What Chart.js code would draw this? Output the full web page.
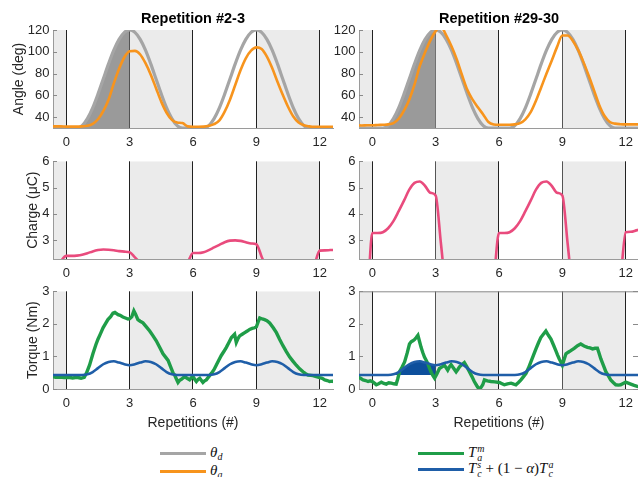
<!DOCTYPE html>
<html>
<head>
<meta charset="utf-8">
<script src="https://cdn.jsdelivr.net/npm/chart.js@4.4.0/dist/chart.umd.min.js"></script>
<style>
  body { margin: 0; width: 638px; height: 477px; overflow: hidden; position: relative; background: #fff; }
  canvas { position: absolute; }
  .leg { position: absolute; height: 18px; display: flex; align-items: center;
         font-family: "Liberation Serif", "DejaVu Serif", serif; font-size: 15px; color: #111; white-space: nowrap; }
  .sw { display: inline-block; width: 46px; height: 3px; margin-right: 4px; }
  .leg sub { font-size: 10px; vertical-align: -3px; }
  .st { display: inline-flex; flex-direction: column; font-size: 10px; line-height: 9px; vertical-align: middle; margin-left: 1px; }
</style>
</head>
<body>
<canvas id="angleL" width="345" height="150" style="left:0;top:0"></canvas>
<canvas id="angleR" width="340" height="150" style="left:300px;top:0"></canvas>
<canvas id="chargeL" width="345" height="130" style="left:0;top:150px"></canvas>
<canvas id="chargeR" width="340" height="130" style="left:300px;top:150px"></canvas>
<canvas id="torqueL" width="345" height="160" style="left:0;top:280px"></canvas>
<canvas id="torqueR" width="340" height="160" style="left:300px;top:280px"></canvas>

<div class="leg" style="left:160px;top:444px"><span class="sw" style="background:#a5a5a5"></span><span><i>θ</i><sub><i>d</i></sub></span></div>
<div class="leg" style="left:160px;top:462px"><span class="sw" style="background:#f7941d"></span><span><i>θ</i><sub><i>a</i></sub></span></div>
<div class="leg" style="left:418px;top:444px"><span class="sw" style="background:#1f9d48"></span><span><i>T</i><span class="st"><i>m</i><i>a</i></span></span></div>
<div class="leg" style="left:418px;top:460px"><span class="sw" style="background:#1f5ea8"></span><span><i>T</i><span class="st"><i>s</i><i>c</i></span> + (1 − <i>α</i>)<i>T</i><span class="st"><i>a</i><i>c</i></span></span></div>

<script>
// repetition grid (x positions of the sampled curves)
const reps = [-0.75, -0.5, -0.25, 0, 0.25, 0.5, 0.75, 1, 1.25, 1.5, 1.75, 2, 2.25, 2.5, 2.75,
  3, 3.25, 3.5, 3.75, 4, 4.25, 4.5, 4.75, 5, 5.25, 5.5, 5.75, 6, 6.25, 6.5, 6.75, 7, 7.25,
  7.5, 7.75, 8, 8.25, 8.5, 8.75, 9, 9.25, 9.5, 9.75, 10, 10.25, 10.5, 10.75, 11, 11.25,
  11.5, 11.75, 12, 12.25, 12.5, 12.75];
const xTicks = [0, 3, 6, 9, 12];
const shadedSpans = [[-1, 0], [3, 6], [9, 12]];
const assistSpan = [0, 3];
const angleTicks = [40, 60, 80, 100, 120];
const chargeTicks = [3, 4, 5, 6];
const torqueTicks = [0, 1, 2, 3];
const torqueBase = 0.43;

// angle (deg)
const thetaDesired = [30, 30, 30, 30, 30, 30, 32.2, 38.6, 48.5, 61.1, 75, 88.9, 101.5, 111.4, 117.8,
  120, 117.8, 111.4, 101.5, 88.9, 75, 61.1, 48.5, 38.6, 32.2, 30, 30, 30, 30, 30, 32.2, 38.6, 48.5,
  61.1, 75, 88.9, 101.5, 111.4, 117.8, 120, 117.8, 111.4, 101.5, 88.9, 75, 61.1, 48.5, 38.6, 32.2,
  30, 30, 30, 30, 30, 30];
const thetaEarly = [31.5, 31.5, 31.5, 31.3, 31.3, 31.3, 31.5, 32, 33.8, 38, 45.5, 56, 71, 84.5, 95,
  100.5, 100.8, 97.5, 89.5, 79, 66.5, 54, 44, 37.5, 35, 34.5, 31.5, 31.2, 31.2, 31.3, 32, 33.5, 37,
  45, 56, 69.5, 83, 94, 101, 104, 102.5, 95.5, 85, 72.5, 60.5, 49.5, 40.5, 35, 32.5,
  31.5, 31, 31, 31, 31, 31];
const thetaLate = [32.5, 32.3, 32.5, 32.5, 32.8, 33, 33.3, 34.5, 38.5, 46, 56, 70, 87, 99.5, 110.5,
  119, 123, 115, 105, 93, 78.5, 65, 56, 49, 42.5, 35.5, 33.3, 33, 33, 33, 33.3, 34.5, 38,
  44.5, 55, 67.5, 80, 92, 104.5, 115, 115, 110, 101.5, 90.5, 78, 64.5, 51, 41, 35.5,
  34, 33.5, 33.3, 33.3, 33.3, 33.3];

// charge (uC)
const chargeEarly = [1.6, 1.8, 2.2, 2.4, 2.4, 2.41, 2.44, 2.5, 2.57, 2.62, 2.64, 2.63, 2.61, 2.58, 2.56,
  2.54, 2.34, 2.14, 1.94, 1.74, 1.6, 1.5, 1.5, 1.5, 1.6, 1.8, 2.14, 2.51, 2.51, 2.54, 2.62, 2.72, 2.82,
  2.92, 2.98, 2.99, 2.97, 2.92, 2.87, 2.84, 2.37, 1.9, 1.6, 1.5, 1.5, 1.5, 1.5, 1.5, 1.6,
  1.8, 2.07, 2.6, 2.61, 2.62, 2.63];
const chargeLate = [0.5, 0.5, 0.8, 3.27, 3.27, 3.3, 3.45, 3.72, 4.1, 4.5, 4.92, 5.18, 5.23, 5.06, 4.8,
  4.7, 2.87, 1.05, 0.5, 0.5, 0.5, 0.5, 0.5, 0.5, 0.5, 0.5, 1.5, 3.27, 3.27, 3.3, 3.45, 3.72, 4.1,
  4.5, 4.92, 5.18, 5.23, 5.06, 4.8, 4.7, 2.87, 1.05, 0.5, 0.5, 0.5, 0.5, 0.5, 0.5, 0.5,
  0.5, 1.5, 3.3, 3.32, 3.37, 3.42];

// torque (Nm)
const torqueSupport = [0.43, 0.43, 0.43, 0.43, 0.43, 0.43, 0.43, 0.45, 0.52, 0.64, 0.76, 0.83, 0.85, 0.81, 0.76,
  0.73, 0.76, 0.81, 0.85, 0.83, 0.76, 0.64, 0.52, 0.45, 0.43, 0.43, 0.43, 0.43, 0.43, 0.43, 0.43, 0.45, 0.52,
  0.64, 0.76, 0.83, 0.85, 0.81, 0.76, 0.73, 0.76, 0.81, 0.85, 0.83, 0.76, 0.64, 0.52, 0.45, 0.43,
  0.43, 0.43, 0.43, 0.43, 0.43, 0.43];
const measEarlyX = [-0.7, -0.5, -0.3, -0.1, 0.1, 0.3, 0.5, 0.7, 0.85, 0.95, 1.1, 1.26, 1.4, 1.5, 1.62, 1.74,
  1.85, 1.97, 2.1, 2.21, 2.3, 2.45, 2.55, 2.68, 2.8, 2.92, 3, 3.1, 3.2, 3.28, 3.39, 3.5, 3.63, 3.8, 3.95,
  4.1, 4.26, 4.42, 4.58, 4.7, 4.82, 4.97, 5.05, 5.13, 5.22, 5.29, 5.37, 5.45, 5.6, 5.72, 5.84, 5.93, 6,
  6.08, 6.16, 6.25, 6.32, 6.4, 6.47, 6.55, 6.63, 6.75, 6.87, 7, 7.1, 7.22, 7.34, 7.46, 7.58, 7.7, 7.82,
  7.97, 8.05, 8.13, 8.21, 8.33, 8.45, 8.57, 8.68, 8.8, 8.92, 9, 9.08, 9.16, 9.28, 9.39, 9.5, 9.63, 9.8,
  9.95, 10.1, 10.26, 10.42, 10.58, 10.74, 10.89, 11.05, 11.21, 11.33, 11.45, 11.58, 11.68, 11.84, 12,
  12.12, 12.24, 12.36, 12.47, 12.6, 12.7];
const measEarlyY = [0.38, 0.36, 0.37, 0.35, 0.36, 0.34, 0.36, 0.33, 0.36, 0.48, 0.73, 1.08, 1.36, 1.53, 1.7, 1.88,
  2.0, 2.13, 2.22, 2.33, 2.35, 2.28, 2.26, 2.21, 2.18, 2.15, 2.16, 2.22, 2.4, 2.3, 2.13, 2.08, 2.03, 1.9, 1.78,
  1.64, 1.48, 1.28, 1.08, 0.98, 0.88, 0.63, 0.5, 0.43, 0.3, 0.2, 0.27, 0.3, 0.38, 0.33, 0.28, 0.35, 0.38,
  0.3, 0.23, 0.3, 0.33, 0.26, 0.2, 0.25, 0.28, 0.38, 0.48, 0.6, 0.73, 0.88, 1.03, 1.15, 1.28, 1.43, 1.58,
  1.68, 1.43, 1.55, 1.63, 1.68, 1.73, 1.78, 1.83, 1.86, 1.88, 1.91, 2.05, 2.18, 2.15, 2.13, 2.1, 2.03, 1.88,
  1.73, 1.53, 1.33, 1.15, 0.98, 0.85, 0.73, 0.62, 0.53, 0.47, 0.43, 0.42, 0.41, 0.38, 0.35,
  0.33, 0.28, 0.26, 0.23, 0.24, 0.22];
const measLateX = [-0.7, -0.56, -0.44, -0.32, -0.2, -0.1, 0, 0.1, 0.19, 0.3, 0.43, 0.55, 0.66, 0.78, 0.9, 1.02,
  1.13, 1.2, 1.29, 1.4, 1.53, 1.65, 1.76, 1.84, 1.92, 2, 2.08, 2.16, 2.24, 2.31, 2.39, 2.47, 2.55, 2.63, 2.72,
  2.8, 2.88, 2.95, 3.05, 3.18, 3.3, 3.42, 3.5, 3.57, 3.65, 3.73, 3.85, 3.97, 4.05, 4.13, 4.25, 4.36, 4.48,
  4.6, 4.72, 4.83, 4.95, 5.07, 5.15, 5.23, 5.31, 5.45, 5.62, 5.8, 6.02, 6.12, 6.25, 6.4, 6.57, 6.7, 6.8,
  6.92, 7.04, 7.16, 7.28, 7.4, 7.51, 7.63, 7.75, 7.87, 7.98, 8.1, 8.22, 8.34, 8.46, 8.58, 8.69, 8.77, 8.85,
  8.93, 9, 9.08, 9.17, 9.28, 9.4, 9.56, 9.72, 9.87, 10.03, 10.19, 10.31, 10.43, 10.55, 10.66, 10.74, 10.82,
  10.94, 11.06, 11.18, 11.29, 11.41, 11.53, 11.65, 11.76, 11.88, 12, 12.12, 12.24, 12.4, 12.55, 12.7];
const measLateY = [0.38, 0.33, 0.28, 0.26, 0.23, 0.25, 0.23, 0.18, 0.13, 0.16, 0.21, 0.17, 0.15, 0.19, 0.18, 0.16,
  0.15, 0.3, 0.53, 0.66, 0.83, 1.1, 1.38, 1.45, 1.48, 1.52, 1.58, 1.65, 1.45, 1.28, 1.12, 0.98, 0.88, 0.78, 0.62,
  0.5, 0.4, 0.33, 0.45, 0.63, 0.68, 0.73, 0.65, 0.58, 0.68, 0.75, 0.64, 0.53, 0.6, 0.68, 0.75, 0.81, 0.68,
  0.53, 0.38, 0.23, 0.1, -0.02, 0.05, 0.13, 0.28, 0.25, 0.23, 0.22, 0.2, 0.17, 0.13, 0.16, 0.18, 0.15, 0.13,
  0.2, 0.28, 0.38, 0.48, 0.65, 0.83, 1.03, 1.23, 1.42, 1.58, 1.68, 1.78, 1.65, 1.53, 1.35, 1.18, 1.05, 0.93,
  0.83, 0.73, 0.9, 1.08, 1.13, 1.18, 1.25, 1.33, 1.38, 1.32, 1.28, 1.26, 1.23, 1.25, 1.25, 1.1, 0.93,
  0.73, 0.53, 0.4, 0.28, 0.2, 0.13, 0.12, 0.13, 0.17, 0.21, 0.18, 0.15, 0.11, 0.08, 0.06];

Chart.defaults.font.family = '"Liberation Sans", Arial, sans-serif';
Chart.defaults.color = '#262626';

const pts = (xs, ys) => xs.map((x, i) => ({x: x, y: ys[i]}));
const within = (data, span) => data.map(p => (p.x >= span[0] && p.x <= span[1]) ? p : {x: p.x, y: null});

// shaded rest phases + inward y ticks (+ box on one panel)
const panelPlugin = {
  id: 'panel',
  beforeDraw(chart) {
    const {ctx, chartArea: a, scales: {x}} = chart;
    ctx.save();
    ctx.beginPath();
    ctx.rect(a.left, a.top, a.width, a.height);
    ctx.clip();
    ctx.fillStyle = '#ebebeb';
    shadedSpans.forEach(([s, e]) => {
      const x0 = x.getPixelForValue(s), x1 = x.getPixelForValue(e);
      ctx.fillRect(x0, a.top, x1 - x0, a.height);
    });
    ctx.restore();
  },
  afterDraw(chart, args, opts) {
    const {ctx, chartArea: a, scales: {y}} = chart;
    ctx.save();
    ctx.strokeStyle = '#8a8a8a';
    ctx.lineWidth = 1;
    ctx.beginPath();
    y.ticks.forEach(t => {
      const py = Math.round(y.getPixelForValue(t.value)) + 0.5;
      ctx.moveTo(a.left, py); ctx.lineTo(a.left + 4, py);
      if (opts.box) { ctx.moveTo(a.right, py); ctx.lineTo(a.right - 6, py); }
    });
    if (opts.box) {
      ctx.moveTo(a.left, a.top + 0.5); ctx.lineTo(a.right, a.top + 0.5);
      ctx.moveTo(a.right - 0.5, a.top); ctx.lineTo(a.right - 0.5, a.bottom);
    }
    ctx.stroke();
    ctx.restore();
  }
};

function makeOptions(o) {
  return {
    responsive: false,
    animation: false,
    devicePixelRatio: 1,
    layout: {padding: {top: o.padTop, right: o.padRight, left: 0, bottom: 0}},
    elements: {point: {radius: 0}},
    plugins: {
      legend: {display: false},
      tooltip: {enabled: false},
      title: o.title ? {display: true, text: o.title, fullSize: false, color: '#000',
        font: {size: 14.5, weight: 'bold'}, padding: {top: 10, bottom: 2.6}} : {display: false},
      panel: {box: o.box}
    },
    scales: {
      x: {
        type: 'linear', min: -0.63, max: 12.63,
        afterBuildTicks: s => { s.ticks = xTicks.map(v => ({value: v})); },
        afterFit: s => { s.height = o.xHeight; },
        ticks: {padding: 7, font: {size: 13}, color: '#262626', callback: v => String(v)},
        grid: {drawTicks: false, lineWidth: 1,
          color: c => (o.dim && c.tick && (c.tick.value === 3 || c.tick.value === 9)) ? '#555' : '#222'},
        border: {display: true, color: '#9a9a9a'},
        title: o.xTitle ? {display: true, text: o.xTitle, color: '#262626', font: {size: 14},
          padding: {top: 0, bottom: 8.6}} : {display: false}
      },
      y: {
        type: 'linear', min: o.yMin, max: o.yMax,
        afterBuildTicks: s => { s.ticks = o.yTicks.map(v => ({value: v})); },
        afterFit: s => { s.width = o.yWidth; },
        ticks: {padding: 3.5, font: {size: 13}, color: '#262626', callback: v => String(v)},
        grid: {drawOnChartArea: false, drawTicks: false},
        border: {display: true, color: '#9a9a9a'},
        title: o.yTitle ? {display: true, text: o.yTitle, color: '#262626', font: {size: 14},
          padding: {top: o.yTitlePad, bottom: 0}} : {display: false}
      }
    }
  };
}

function angleChart(id, actual, title, left) {
  const desired = pts(reps, thetaDesired);
  new Chart(document.getElementById(id), {
    type: 'line',
    data: {datasets: [
      {data: pts(reps, actual), borderColor: '#f7941d', borderWidth: 2.6, cubicInterpolationMode: 'monotone', order: 1},
      {data: desired, borderColor: '#a5a5a5', borderWidth: 3.2, cubicInterpolationMode: 'monotone', order: 2},
      {data: within(desired, assistSpan), borderWidth: 0, borderColor: 'rgba(0,0,0,0)', backgroundColor: '#9a9a9a',
        fill: 'start', cubicInterpolationMode: 'monotone', spanGaps: false, order: 3}
    ]},
    options: makeOptions({padTop: 0, padRight: left ? 12 : 1, yWidth: left ? 53 : 59, xHeight: 22,
      yMin: 30, yMax: 120, yTicks: angleTicks, yTitle: left ? 'Angle (deg)' : null, yTitlePad: 10.6,
      title: title, dim: !left}),
    plugins: [panelPlugin]
  });
}

function chargeChart(id, values, left) {
  new Chart(document.getElementById(id), {
    type: 'line',
    data: {datasets: [
      {data: pts(reps, values), borderColor: '#e94b7d', borderWidth: 2.6, cubicInterpolationMode: 'monotone'}
    ]},
    options: makeOptions({padTop: 9, padRight: left ? 12 : 1, yWidth: left ? 53 : 59, xHeight: 21,
      yMin: 2.28, yMax: 6, yTicks: chargeTicks, yTitle: left ? 'Charge (μC)' : null, yTitlePad: 24.6,
      dim: !left}),
    plugins: [panelPlugin]
  });
}

function torqueChart(id, mx, my, left) {
  const support = pts(reps, torqueSupport);
  const sets = [
    {data: support, borderColor: '#1f5ea8', borderWidth: 2.6, cubicInterpolationMode: 'monotone', order: 1},
    {data: pts(mx, my), borderColor: '#1f9d48', borderWidth: 3.4, tension: 0, order: 2}
  ];
  if (!left) {
    sets.push({data: within(support, assistSpan), borderWidth: 0, borderColor: 'rgba(0,0,0,0)',
      backgroundColor: '#0d4f9c', fill: {value: torqueBase}, cubicInterpolationMode: 'monotone', order: 3});
  }
  new Chart(document.getElementById(id), {
    type: 'line',
    data: {datasets: sets},
    options: makeOptions({padTop: 9, padRight: left ? 12 : 1, yWidth: left ? 53 : 59, xHeight: 51,
      yMin: 0, yMax: 3, yTicks: torqueTicks, yTitle: left ? 'Torque (Nm)' : null, yTitlePad: 24.6,
      xTitle: 'Repetitions (#)', dim: !left, box: !left}),
    plugins: [panelPlugin]
  });
}

angleChart('angleL', thetaEarly, 'Repetition #2-3', true);
angleChart('angleR', thetaLate, 'Repetition #29-30', false);
chargeChart('chargeL', chargeEarly, true);
chargeChart('chargeR', chargeLate, false);
torqueChart('torqueL', measEarlyX, measEarlyY, true);
torqueChart('torqueR', measLateX, measLateY, false);
</script>
</body>
</html>
